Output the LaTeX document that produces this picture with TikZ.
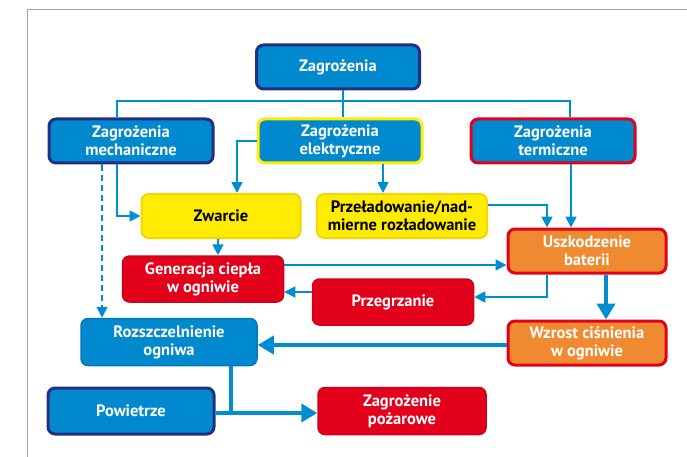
\documentclass[tikz,border=0pt]{standalone}
\usepackage{fontspec}
\setmainfont{PT Sans}
\usetikzlibrary{arrows.meta,positioning}
\definecolor{zbl}{RGB}{0,137,207}
\definecolor{znavy}{RGB}{35,48,130}
\definecolor{zyel}{RGB}{255,236,0}
\definecolor{zyeld}{RGB}{245,214,0}
\definecolor{zred}{RGB}{226,0,26}
\definecolor{zredd}{RGB}{205,0,30}
\definecolor{zora}{RGB}{240,138,48}
\definecolor{zline}{RGB}{0,141,210}
\definecolor{zframe}{RGB}{165,165,165}
\tikzset{
  zbox/.style={
    rounded corners=7pt, align=center, inner sep=2pt, text=white,
    font=\bfseries\fontsize{16.5}{18}\selectfont,
    minimum width=164pt, minimum height=44pt
  },
  navy/.style={zbox, fill=zbl, draw=znavy, line width=3pt},
  blu/.style={zbox, fill=zbl, draw=zbl!90!black, line width=1.5pt},
  ebox/.style={zbox, fill=zbl, draw=zyel, line width=3pt},
  tbox/.style={zbox, fill=zbl, draw=zred, line width=3pt},
  yel/.style={zbox, fill=zyel, draw=zyeld, line width=2pt, text=black},
  red/.style={zbox, fill=zred, draw=zredd, line width=1.5pt},
  ora/.style={zbox, fill=zora, draw=zred, line width=3pt},
  link/.style={draw=zline, line width=1.8pt},
  arr/.style={link, -{Triangle[length=11pt,width=11pt]}},
  darr/.style={arr, dash pattern=on 6pt off 4pt},
  tlink/.style={draw=zline, line width=4.5pt},
  tarr/.style={tlink, -{Triangle[length=16pt,width=18pt]}}
}
\begin{document}
\begin{tikzpicture}[x=1pt,y=-1pt]
  \useasboundingbox (0,0) rectangle (687,457);
  \draw[zframe, line width=1pt] (27,457) -- (27,10) -- (687,10);

  \node[navy, minimum width=163pt] (zag) at (338,67) {Zagrożenia};
  \node[navy] (mech) at (131,141) {Zagrożenia\\mechaniczne};
  \node[ebox] (elek) at (340,141) {Zagrożenia\\elektryczne};
  \node[tbox] (term) at (553,141) {Zagrożenia\\termiczne};
  \node[yel, minimum width=159pt] (zwarcie) at (221,216) {Zwarcie};
  \node[yel, minimum width=170pt] (przel) at (402,216) {Przeładowanie/nad-\\mierne rozładowanie};
  \node[ora, minimum width=158pt] (uszk) at (587,251) {Uszkodzenie\\baterii};
  \node[red, minimum width=161pt, minimum height=46pt] (gener) at (203,279) {Generacja ciepła\\w ogniwie};
  \node[red, minimum width=161pt, minimum height=46pt] (przeg) at (393,302) {Przegrzanie};
  \node[ora, minimum width=158pt] (wzrost) at (587,343) {Wzrost ciśnienia\\w ogniwie};
  \node[blu, minimum width=176pt, minimum height=47pt] (rozsz) at (169,342) {Rozszczelnienie\\ogniwa};
  \node[navy, minimum width=166pt, minimum height=46pt] (powie) at (131,411) {Powietrze};
  \node[red, minimum width=168pt, minimum height=47pt] (pozar) at (402,411) {Zagrożenie\\pożarowe};

  % tree below the top box
  \coordinate (split) at (343,101);
  \draw[link] ([xshift=5pt]zag.south) -- (split);
  \draw[link] ([xshift=-14pt]mech.north) -- ([xshift=-14pt]mech.north |- split)
    -- ([xshift=17pt]term.north |- split) -- ([xshift=17pt]term.north);
  \draw[link] (split) -- (split |- elek.north);

  % thin arrows
  \draw[arr] ([xshift=-14pt]mech.south) |- (zwarcie.west);
  \draw[darr] ([xshift=-29pt]mech.south) -- ([xshift=-29pt]mech.south |- rozsz.north);
  \draw[arr] (elek.west) -| ([xshift=16pt]zwarcie.north);
  \draw[arr] ([xshift=43pt]elek.south) -- ([xshift=43pt]elek.south |- przel.north);
  \draw[arr] ([yshift=11pt]przel.east) -| ([xshift=-40pt]uszk.north);
  \draw[arr] ([xshift=18pt]term.south) -- ([xshift=18pt]term.south |- uszk.north);
  \draw[arr] ([xshift=-3pt]zwarcie.south) -- ([xshift=-3pt]zwarcie.south |- gener.north);
  \draw[arr] ([yshift=14pt]gener.east) -- ([yshift=14pt]gener.east -| uszk.west);
  \draw[arr] ([xshift=-40pt]uszk.south) |- ([yshift=5pt]przeg.east);
  \draw[arr] ([yshift=10pt]przeg.west) -- ([yshift=10pt]przeg.west -| gener.east);

  % thick arrows
  \draw[tarr] ([xshift=19pt]uszk.south) -- ([xshift=19pt]uszk.south |- wzrost.north);
  \draw[tarr] ([yshift=-2pt]wzrost.west) -- ([yshift=-2pt]wzrost.west -| rozsz.east);
  \draw[tarr] ([xshift=62pt]rozsz.south) |- ([yshift=-2pt]pozar.west);
  \draw[tlink] ([yshift=-2pt]powie.east) -- ([xshift=62pt,yshift=-2pt]rozsz.south |- powie.east);
\end{tikzpicture}
\end{document}
